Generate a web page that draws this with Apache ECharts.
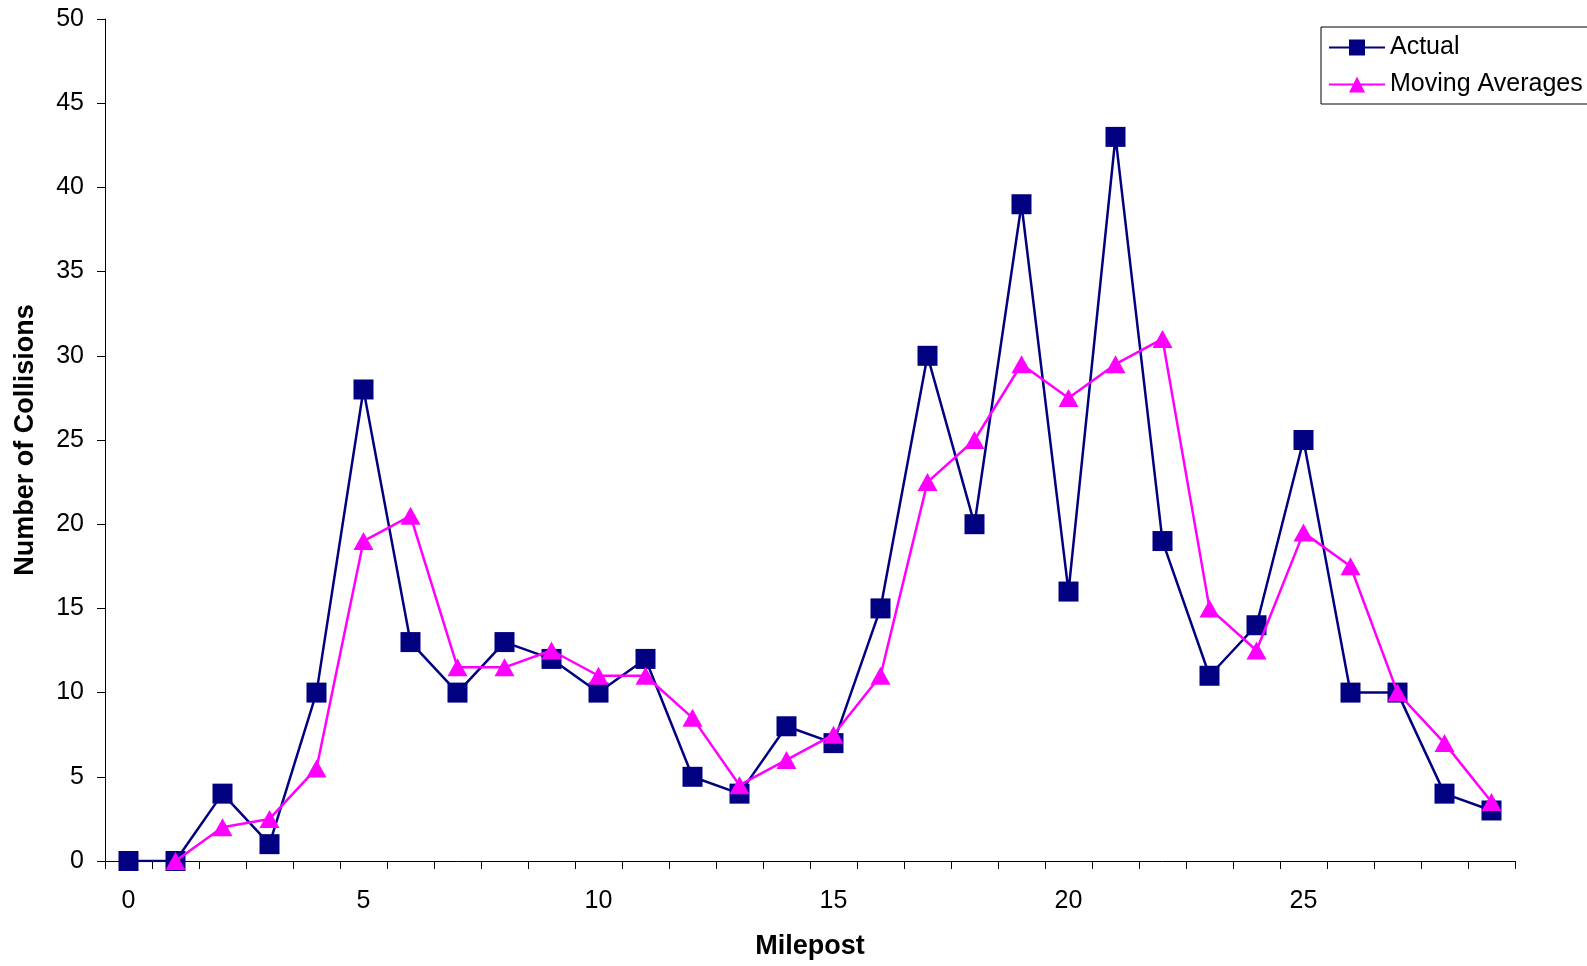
<!DOCTYPE html>
<html>
<head>
<meta charset="utf-8">
<script src="https://cdn.jsdelivr.net/npm/echarts@6/dist/echarts.min.js"></script>
<style>html,body{margin:0;padding:0;background:#fff}#c{width:1587px;height:966px}</style>
</head>
<body>
<div id="c"></div>
<script>
const mileposts = ['0','1','2','3','4','5','6','7','8','9','10','11','12','13','14','15','16','17','18','19','20','21','22','23','24','25','26','27','28','29'];
const actual = [0,0,4,1,10,28,13,10,13,12,10,12,5,4,8,7,15,30,20,39,16,43,19,11,14,25,10,10,4,3];
const movingAverages = [null,0,2,2.5,5.5,19,20.5,11.5,11.5,12.5,11,11,8.5,4.5,6,7.5,11,22.5,25,29.5,27.5,29.5,31,15,12.5,19.5,17.5,10,7,3.5];
const yTicks = {min:0, max:50, interval:5};

const chart = echarts.init(document.getElementById('c'));
const font = 'Liberation Sans, Arial, sans-serif';
chart.setOption({
  animation:false,
  backgroundColor:'#fff',
  textStyle:{fontFamily:font},
  grid:{left:105,right:72,top:19,bottom:105,containLabel:false},
  legend:{
    left:1321, top:27, orient:'vertical',
    itemWidth:56, itemHeight:20, itemGap:12,
    padding:[8,30,7,7],
    borderColor:'#000', borderWidth:1,
    textStyle:{fontSize:25,color:'#000',fontFamily:font},
    data:['Actual','Moving Averages']
  },
  xAxis:{
    type:'category', data:mileposts, boundaryGap:true,
    name:'Milepost', nameLocation:'middle', nameGap:72,
    nameTextStyle:{fontSize:27,fontWeight:'bold',color:'#000',fontFamily:font},
    axisLine:{lineStyle:{color:'#000',width:1}},
    axisTick:{show:true,interval:0,length:8,inside:false,lineStyle:{color:'#000'}},
    axisLabel:{interval:4,fontSize:25,color:'#000',margin:28,fontFamily:font},
    splitLine:{show:false}
  },
  yAxis:{
    type:'value', min:yTicks.min, max:yTicks.max, interval:yTicks.interval,
    name:'Number of Collisions', nameLocation:'middle', nameGap:66, nameRotate:90,
    nameTextStyle:{fontSize:27,fontWeight:'bold',color:'#000',fontFamily:font},
    axisLine:{show:true,lineStyle:{color:'#000',width:1}},
    axisTick:{show:true,length:8,lineStyle:{color:'#000'}},
    axisLabel:{fontSize:25,color:'#000',margin:21,fontFamily:font},
    splitLine:{show:false}
  },
  series:[
    {name:'Actual',type:'line',data:actual,symbol:'rect',symbolSize:20,
     lineStyle:{color:'#000080',width:2.5},itemStyle:{color:'#000080'},z:2},
    {name:'Moving Averages',type:'line',data:movingAverages,symbol:'triangle',symbolSize:[20,18],
     lineStyle:{color:'#FF00FF',width:2.5},itemStyle:{color:'#FF00FF'},z:3,connectNulls:false}
  ]
});
</script>
</body>
</html>
